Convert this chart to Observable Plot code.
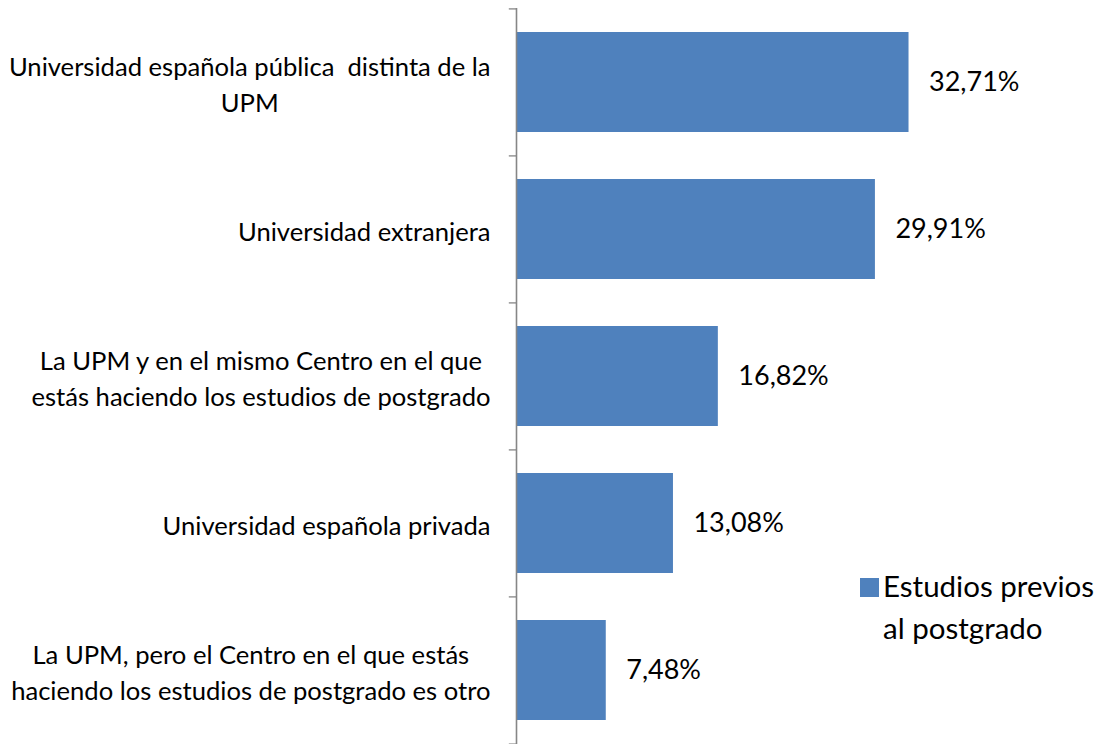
<!DOCTYPE html>
<html><head><meta charset="utf-8">
<script src="https://cdn.jsdelivr.net/npm/d3@7"></script>
<script src="https://cdn.jsdelivr.net/npm/@observablehq/plot@0.6"></script>
<style>
body{margin:0;background:#fff}
#wrap{position:relative;width:1099px;height:744px;overflow:hidden}
#legend{position:absolute;left:860px;top:565px;font-family:Lato,sans-serif;font-size:29.5px;line-height:42px;color:#000}
#legend .sw{position:absolute;left:0;top:13px;width:19px;height:19px}
#legend .tx{position:absolute;left:23px;top:0;white-space:nowrap}
</style></head><body><div id="wrap"></div><script>
const categories = [
  "Universidad española pública  distinta de la\nUPM",
  "Universidad extranjera",
  "La UPM y en el mismo Centro en el que\nestás haciendo los estudios de postgrado",
  "Universidad española privada",
  "La UPM, pero el Centro en el que estás\nhaciendo los estudios de postgrado es otro"
];
const values = [32.71, 29.91, 16.82, 13.08, 7.48];
const seriesName = ["Estudios previos", "al postgrado"];
const barColor = "#4F81BD";

const data = categories.map((c, i) => ({cat: c, v: values[i]}));
const fmt = v => d3.format(".2f")(v).replace(".", ",") + "%";

const catSize = 25.6;
const ctx = document.createElement("canvas").getContext("2d");
ctx.font = catSize + "px Lato";
const blockW = c => d3.max(c.split("\n"), l => ctx.measureText(l).width);

const step = 736 / 5;
const labelMarks = categories.map(c => Plot.text([c], {
  y: d => d, x: () => 0, text: d => d,
  textAnchor: "middle", dx: -(26 + blockW(c) / 2),
  fontSize: catSize, lineHeight: 36 / catSize, fill: "#000"
}));

const chart = Plot.plot({
  width: 1099, height: 744,
  marginLeft: 516, marginRight: 103, marginTop: 8, marginBottom: 0,
  style: {fontFamily: "Lato, sans-serif", background: "#fff"},
  x: {domain: [0, 40], axis: null},
  y: {domain: categories, paddingInner: 0.32, paddingOuter: 0.16, axis: null},
  marks: [
    Plot.barX(data, {y: "cat", x: "v", fill: barColor}),
    Plot.ruleY(categories, {y: d => d, x1: -0.6, x2: 0, dy: -step / 2, stroke: "#868686", strokeWidth: 1.3}),
    Plot.ruleY(categories.slice(-1), {y: d => d, x1: -0.6, x2: 0, dy: step / 2, stroke: "#868686", strokeWidth: 1.3}),
    Plot.ruleX([0], {stroke: "#868686", strokeWidth: 1.6}),
    Plot.text(data, {y: "cat", x: "v", text: d => fmt(d.v), textAnchor: "start", dx: 20, fontSize: 27, fill: "#000"}),
    ...labelMarks
  ]
});
const wrap = document.getElementById("wrap");
wrap.appendChild(chart);
const lg = document.createElement("div");
lg.id = "legend";
lg.innerHTML = `<div class="sw" style="background:${barColor}"></div><div class="tx">${seriesName.join("<br>")}</div>`;
wrap.appendChild(lg);
</script></body></html>
